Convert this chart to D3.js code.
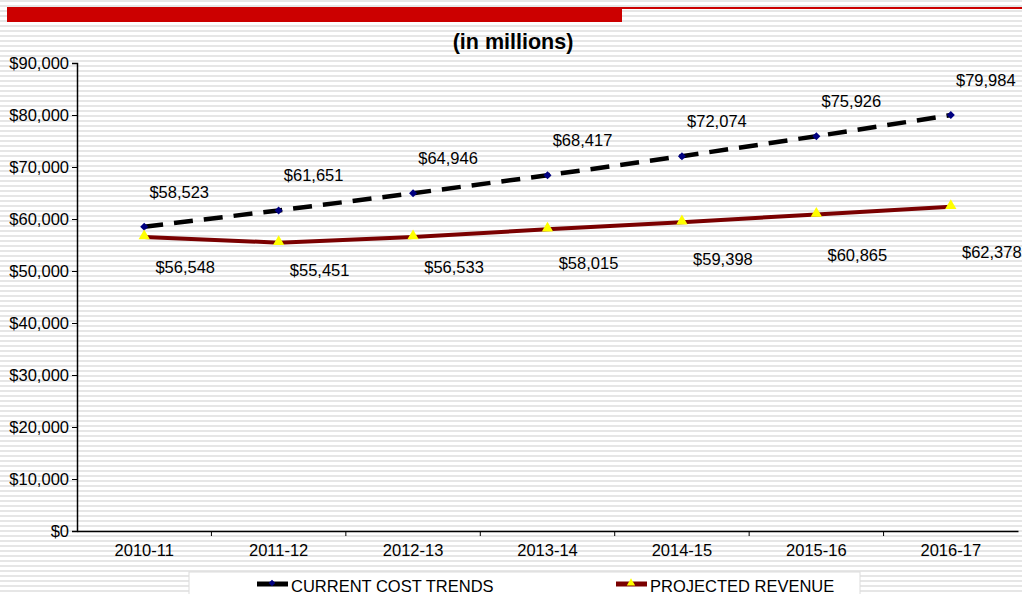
<!DOCTYPE html>
<html>
<head>
<meta charset="utf-8">
<script src="https://cdn.jsdelivr.net/npm/d3@7"></script>
<style>
  html, body { margin: 0; padding: 0; background: #fff; }
  svg { display: block; font-family: "Liberation Sans", Arial, sans-serif; }
</style>
</head>
<body>
<svg id="chart" width="1022" height="594"></svg>
<script>
(function () {
    'use strict';

    const years = ["2010-11", "2011-12", "2012-13", "2013-14", "2014-15", "2015-16", "2016-17"];
    const costTrends = [58523, 61651, 64946, 68417, 72074, 75926, 79984];
    const projectedRevenue = [56548, 55451, 56533, 58015, 59398, 60865, 62378];
    const yTicks = [0, 10000, 20000, 30000, 40000, 50000, 60000, 70000, 80000, 90000];
    const seriesNames = ["CURRENT COST TRENDS", "PROJECTED REVENUE"];

    const width = 1022, height = 594;
    const margin = {left: 77, right: 4, top: 63, bottom: 63};
    const fmt = d3.format("$,d");
    const fs = "16.5px";

    const svg = d3.select("#chart");

    // striped backdrop
    const defs = svg.append("defs");
    const pat = defs.append("pattern")
        .attr("id", "stripes")
        .attr("patternUnits", "userSpaceOnUse")
        .attr("width", 10).attr("height", 5);
    pat.append("rect").attr("width", 10).attr("height", 5).attr("fill", "#fff");
    pat.append("rect").attr("y", 0).attr("width", 10).attr("height", 2).attr("fill", "#e6e6e6");

    svg.append("rect").attr("width", width).attr("height", height).attr("fill", "url(#stripes)");

    // red header bar
    svg.append("rect").attr("x", 7).attr("y", 7).attr("width", 615).attr("height", 15).attr("fill", "#cc0000");
    svg.append("rect").attr("x", 622).attr("y", 7).attr("width", 400).attr("height", 2).attr("fill", "#cc0000");

    svg.append("text")
        .attr("x", 513).attr("y", 49)
        .attr("text-anchor", "middle")
        .style("font-size", "21.5px").style("font-weight", "bold")
        .text("(in millions)");

    const x = d3.scaleBand()
        .domain(years)
        .range([margin.left, width - margin.right]);

    const y = d3.scaleLinear()
        .domain([0, 90000])
        .range([height - margin.bottom, margin.top]);

    const cx = d => x(d) + x.bandwidth() / 2;

    // y axis
    const yAxis = svg.append("g")
        .attr("transform", `translate(${margin.left},0)`)
        .call(d3.axisLeft(y).tickValues(yTicks).tickFormat(fmt).tickSize(5).tickPadding(3));
    yAxis.select(".domain").attr("stroke", "#000").attr("stroke-width", 1.5);
    yAxis.selectAll(".tick line").attr("stroke", "#000");
    yAxis.selectAll("text").style("font-size", fs).attr("fill", "#000");

    // x axis
    const xAxis = svg.append("g")
        .attr("transform", `translate(0,${y(0)})`)
        .call(d3.axisBottom(x).tickSize(0).tickPadding(13));
    xAxis.select(".domain").attr("stroke", "#000").attr("stroke-width", 1.5);
    xAxis.selectAll("text").style("font-size", fs).attr("fill", "#000");
    xAxis.selectAll(".bound")
        .data(years.slice(1))
        .join("line")
        .attr("x1", d => x(d)).attr("x2", d => x(d))
        .attr("y1", 0).attr("y2", 5)
        .attr("stroke", "#000");

    const line = d3.line().x(d => cx(d[0])).y(d => y(d[1]));
    const costPts = years.map((d, i) => [d, costTrends[i]]);
    const revPts = years.map((d, i) => [d, projectedRevenue[i]]);

    svg.append("path")
        .datum(revPts)
        .attr("d", line)
        .attr("fill", "none")
        .attr("stroke", "#7a0000")
        .attr("stroke-width", 4);

    svg.append("path")
        .datum(costPts)
        .attr("d", line)
        .attr("fill", "none")
        .attr("stroke", "#000")
        .attr("stroke-width", 4.5)
        .attr("stroke-dasharray", "19,11");

    // square turned 45deg reads closer to the source's diamond than d3's tall one
    const diamond = d3.symbol().type(d3.symbolSquare).size(32);
    const triangle = d3.symbol().type(d3.symbolTriangle).size(55);

    svg.append("g").selectAll("path")
        .data(costPts)
        .join("path")
        .attr("transform", d => `translate(${cx(d[0])},${y(d[1])}) rotate(45)`)
        .attr("d", diamond)
        .attr("fill", "#000080");

    svg.append("g").selectAll("path")
        .data(revPts)
        .join("path")
        .attr("transform", d => `translate(${cx(d[0])},${y(d[1]) - 1})`)
        .attr("d", triangle)
        .attr("fill", "#ffff00");

    // data labels
    svg.append("g").selectAll("text")
        .data(costPts)
        .join("text")
        .attr("x", d => cx(d[0]) + 35)
        .attr("y", d => y(d[1]) - 29)
        .attr("text-anchor", "middle")
        .style("font-size", fs)
        .text(d => fmt(d[1]));

    // revenue labels sit in a roughly level row under the line
    svg.append("g").selectAll("text")
        .data(revPts)
        .join("text")
        .attr("x", d => cx(d[0]) + 41)
        .attr("y", d => (y(d[1]) + 40 + y(50500)) / 2)
        .attr("text-anchor", "middle")
        .style("font-size", fs)
        .text(d => fmt(d[1]));

    // legend
    const legend = svg.append("g");
    legend.append("rect")
        .attr("x", 189).attr("y", 572)
        .attr("width", 671).attr("height", 30)
        .attr("fill", "#fff").attr("stroke", "#dcdcdc");

    const items = [
        {name: seriesNames[0], x0: 257, color: "#000", type: d3.symbolSquare, rot: 45, size: 22, symFill: "#000080"},
        {name: seriesNames[1], x0: 616, color: "#7a0000", type: d3.symbolTriangle, rot: 0, size: 30, symFill: "#ffff00"}
    ];
    items.forEach(it => {
        legend.append("line")
            .attr("x1", it.x0).attr("x2", it.x0 + 31)
            .attr("y1", 584).attr("y2", 584)
            .attr("stroke", it.color).attr("stroke-width", 5);
        legend.append("path")
            .attr("transform", `translate(${it.x0 + 15},583) rotate(${it.rot})`)
            .attr("d", d3.symbol().type(it.type).size(it.size))
            .attr("fill", it.symFill);
        legend.append("text")
            .attr("x", it.x0 + 34).attr("y", 592)
            .style("font-size", fs)
            .text(it.name);
    });
}());
</script>
</body>
</html>
